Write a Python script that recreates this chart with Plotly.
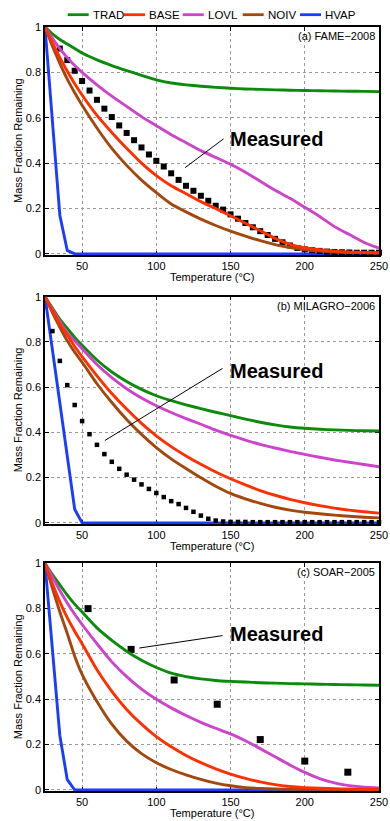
import plotly.graph_objects as go

# ---------------- data ----------------
T_MODEL = [25, 30, 35, 40, 45, 50, 60, 70, 80, 90, 100, 110, 120, 130, 140,
           150, 160, 170, 180, 190, 200, 210, 220, 230, 240, 250]

# (a) FAME-2008
A_TRAD = [1, 0.97, 0.945, 0.925, 0.905, 0.885, 0.855, 0.83, 0.808, 0.787, 0.767, 0.753, 0.745,
          0.739, 0.734, 0.73, 0.727, 0.725, 0.723, 0.721, 0.72, 0.719, 0.718, 0.717, 0.716, 0.715]
A_BASE = [1, 0.93, 0.865, 0.805, 0.75, 0.70, 0.61, 0.535, 0.465, 0.4, 0.345, 0.3, 0.265,
          0.23, 0.2, 0.168, 0.135, 0.102, 0.068, 0.042, 0.027, 0.018, 0.012, 0.008, 0.006, 0.005]
A_LOVL = [1, 0.95, 0.905, 0.865, 0.83, 0.80, 0.745, 0.695, 0.65, 0.605, 0.565, 0.525, 0.49,
          0.455, 0.425, 0.395, 0.36, 0.32, 0.28, 0.245, 0.205, 0.165, 0.12, 0.085, 0.05, 0.025]
A_NOIV = [1, 0.915, 0.84, 0.77, 0.71, 0.655, 0.555, 0.465, 0.39, 0.325, 0.27, 0.22, 0.185,
          0.153, 0.125, 0.1, 0.078, 0.058, 0.041, 0.028, 0.018, 0.012, 0.008, 0.006, 0.005, 0.004]
A_HVAP = [1, 0.58, 0.17, 0.015, 0, 0, 0, 0, 0, 0, 0, 0, 0,
          0, 0, 0, 0, 0, 0, 0, 0, 0, 0, 0, 0, 0]
A_MEAS_T = [35, 40, 45, 50, 55, 60, 65, 70, 75, 80, 85, 90, 95, 100, 105, 110, 115, 120,
            125, 130, 135, 140, 145, 150, 155, 160, 165, 170, 175, 180, 185, 190, 195, 200,
            205, 210, 215, 220, 225, 230, 235, 240, 245, 250]
A_MEAS = [0.905, 0.854, 0.807, 0.762, 0.72, 0.679, 0.64, 0.603, 0.566, 0.533, 0.501, 0.469,
          0.438, 0.41, 0.385, 0.355, 0.326, 0.3, 0.278, 0.256, 0.234, 0.212, 0.195, 0.174,
          0.155, 0.136, 0.117, 0.1, 0.083, 0.066, 0.051, 0.037, 0.026, 0.02, 0.016, 0.013,
          0.01, 0.008, 0.007, 0.006, 0.005, 0.005, 0.005, 0.005]

# (b) MILAGRO-2006
B_TRAD = [1, 0.95, 0.9, 0.86, 0.82, 0.785, 0.72, 0.667, 0.625, 0.59, 0.562, 0.54, 0.522,
          0.505, 0.489, 0.474, 0.459, 0.445, 0.433, 0.424, 0.418, 0.414, 0.411, 0.409, 0.407, 0.406]
B_BASE = [1, 0.94, 0.88, 0.83, 0.78, 0.735, 0.65, 0.572, 0.503, 0.44, 0.385, 0.337, 0.296,
          0.259, 0.225, 0.195, 0.168, 0.143, 0.122, 0.104, 0.089, 0.076, 0.065, 0.056, 0.049, 0.043]
B_LOVL = [1, 0.945, 0.89, 0.84, 0.805, 0.77, 0.70, 0.642, 0.593, 0.552, 0.518, 0.488, 0.461,
          0.436, 0.41, 0.387, 0.366, 0.347, 0.331, 0.316, 0.303, 0.29, 0.278, 0.268, 0.258, 0.248]
B_NOIV = [1, 0.93, 0.865, 0.805, 0.755, 0.71, 0.615, 0.532, 0.457, 0.391, 0.333, 0.283, 0.24,
          0.199, 0.162, 0.13, 0.106, 0.086, 0.069, 0.056, 0.047, 0.04, 0.034, 0.029, 0.025, 0.022]
B_HVAP = [1, 0.77, 0.53, 0.3, 0.06, 0, 0, 0, 0, 0, 0, 0, 0,
          0, 0, 0, 0, 0, 0, 0, 0, 0, 0, 0, 0, 0]
B_MEAS_T = [30, 35, 40, 45, 50, 55, 60, 65, 70, 75, 80, 85, 90, 95, 100, 105, 110, 115, 120,
            125, 130, 135, 140, 145, 150, 155, 160, 165, 170, 175, 180, 185, 190, 195, 200,
            205, 210, 215, 220, 225, 230, 235, 240, 245, 250]
B_MEAS = [0.848, 0.716, 0.609, 0.521, 0.45, 0.392, 0.345, 0.304, 0.27, 0.239, 0.213, 0.191,
          0.17, 0.15, 0.132, 0.114, 0.096, 0.083, 0.066, 0.049, 0.032, 0.018, 0.01, 0.006,
          0.004, 0.004, 0.004, 0.003, 0.003, 0.003, 0.003, 0.003, 0.003, 0.003, 0.003, 0.003,
          0.003, 0.003, 0.003, 0.003, 0.003, 0.003, 0.003, 0.003, 0.003]

# (c) SOAR-2005
C_TRAD = [1, 0.95, 0.905, 0.86, 0.82, 0.785, 0.715, 0.66, 0.612, 0.572, 0.54, 0.515, 0.5,
          0.49, 0.483, 0.479, 0.476, 0.473, 0.471, 0.469, 0.468, 0.466, 0.465, 0.464, 0.463, 0.462]
C_BASE = [1, 0.91, 0.83, 0.76, 0.7, 0.645, 0.53, 0.435, 0.355, 0.29, 0.235, 0.19, 0.152,
          0.12, 0.093, 0.07, 0.051, 0.035, 0.023, 0.015, 0.01, 0.007, 0.005, 0.004, 0.003, 0.003]
C_LOVL = [1, 0.94, 0.88, 0.825, 0.775, 0.73, 0.645, 0.565, 0.5, 0.445, 0.4, 0.362, 0.328,
          0.298, 0.272, 0.247, 0.217, 0.182, 0.146, 0.11, 0.077, 0.05, 0.031, 0.019, 0.012, 0.009]
C_NOIV = [1, 0.89, 0.785, 0.69, 0.59, 0.51, 0.39, 0.29, 0.215, 0.16, 0.12, 0.09, 0.066,
          0.046, 0.03, 0.018, 0.01, 0.006, 0.004, 0.003, 0.002, 0.002, 0.001, 0.001, 0.001, 0.001]
C_HVAP = [1, 0.6, 0.24, 0.045, 0, 0, 0, 0, 0, 0, 0, 0, 0,
          0, 0, 0, 0, 0, 0, 0, 0, 0, 0, 0, 0, 0]
C_MEAS_T = [54, 83, 112, 141, 170, 200, 229]
C_MEAS = [0.80, 0.62, 0.485, 0.378, 0.222, 0.127, 0.078]

SERIES_NAMES = ["TRAD", "BASE", "LOVL", "NOIV", "HVAP"]
PANEL_LABELS = ["(a) FAME\u22122008", "(b) MILAGRO\u22122006", "(c) SOAR\u22122005"]
X_TITLE = "Temperature (\u00b0C)"
Y_TITLE = "Mass Fraction Remaining"
X_TICKS = [50, 100, 150, 200, 250]
Y_TICKS = [0, 0.2, 0.4, 0.6, 0.8, 1]
Y_TICK_TEXT = ["0", "0.2", "0.4", "0.6", "0.8", "1"]

# annotation anchors (text position and pointer end), data coords per panel
MEAS_TEXT_POS = [(148.4, 0.505), (148.4, 0.672), (148.4, 0.69)]
MEAS_LINE = [((145.3, 0.507), (119.4, 0.38)),
             ((144.6, 0.683), (65.3, 0.364)),
             ((144.6, 0.681), (88.5, 0.626))]

# ---------------- styling ----------------
COLORS = {"TRAD": "#0c8a0c", "BASE": "#ff2f00", "LOVL": "#cc44cc",
          "NOIV": "#a4470c", "HVAP": "#1a3cff"}
FONT = "Liberation Sans, Arial, Helvetica, sans-serif"
MARKER_SIZE = [6, 4.5, 7]
DOMAINS = [[0.7016, 1.0], [0.3495, 0.647], [0.0, 0.298]]

panels = [
    {"TRAD": A_TRAD, "BASE": A_BASE, "LOVL": A_LOVL, "NOIV": A_NOIV, "HVAP": A_HVAP,
     "mt": A_MEAS_T, "m": A_MEAS},
    {"TRAD": B_TRAD, "BASE": B_BASE, "LOVL": B_LOVL, "NOIV": B_NOIV, "HVAP": B_HVAP,
     "mt": B_MEAS_T, "m": B_MEAS},
    {"TRAD": C_TRAD, "BASE": C_BASE, "LOVL": C_LOVL, "NOIV": C_NOIV, "HVAP": C_HVAP,
     "mt": C_MEAS_T, "m": C_MEAS},
]

fig = go.Figure()
draw_order = ["HVAP", "MEAS", "TRAD", "LOVL", "NOIV", "BASE"]
small_font = dict(size=11, color="black", family=FONT)

for i, p in enumerate(panels):
    sfx = "" if i == 0 else str(i + 1)
    xa, ya = "x" + sfx, "y" + sfx
    for name in draw_order:
        if name == "MEAS":
            fig.add_trace(go.Scatter(
                x=p["mt"], y=p["m"], mode="markers", xaxis=xa, yaxis=ya,
                marker=dict(symbol="square", size=MARKER_SIZE[i], color="black",
                            line=dict(width=0)),
                showlegend=False, cliponaxis=False, hoverinfo="skip"))
        else:
            fig.add_trace(go.Scatter(
                x=T_MODEL, y=p[name], mode="lines", xaxis=xa, yaxis=ya,
                line=dict(color=COLORS[name], width=2.9,
                          shape="linear" if name == "HVAP" else "spline",
                          smoothing=0.5 if name != "HVAP" else None),
                showlegend=False, hoverinfo="skip"))

    axis_common = dict(showline=True, linecolor="black", linewidth=1.5, mirror="ticks",
                       ticks="inside", ticklen=4, tickcolor="black",
                       showgrid=True, gridcolor="#9a9a9a", griddash="dot", gridwidth=1,
                       zeroline=False, tickfont=small_font, automargin=False,
                       layer="below traces")
    fig.update_layout(**{
        "xaxis" + sfx: dict(axis_common, domain=[0, 1], anchor=ya, range=[25, 250],
                            tickvals=X_TICKS),
        "yaxis" + sfx: dict(axis_common, domain=DOMAINS[i], anchor=xa, range=[-0.005, 1],
                            tickvals=Y_TICKS, ticktext=Y_TICK_TEXT),
    })

    # axis titles
    fig.add_annotation(text=X_TITLE, xref=xa + " domain", yref=ya + " domain",
                       x=0.5, y=0, yshift=-22, xanchor="center", yanchor="middle",
                       showarrow=False, font=small_font)
    fig.add_annotation(text=Y_TITLE, xref=xa + " domain", yref=ya + " domain",
                       x=0, y=0.5, xshift=-27, xanchor="center", yanchor="middle",
                       textangle=-90, showarrow=False, font=small_font)
    # panel label
    fig.add_annotation(text=PANEL_LABELS[i], xref=xa + " domain", yref=ya + " domain",
                       x=0.995, y=0.995, xanchor="right", yanchor="top", showarrow=False,
                       font=small_font)
    # "Measured" text and pointer
    tx, ty = MEAS_TEXT_POS[i]
    fig.add_annotation(text="<b>Measured</b>", x=tx, y=ty, xref=xa, yref=ya,
                       xanchor="left", yanchor="middle", showarrow=False,
                       font=dict(size=20, color="black", family=FONT))
    (x0, y0), (x1, y1) = MEAS_LINE[i]
    fig.add_shape(type="line", xref=xa, yref=ya, x0=x0, y0=y0, x1=x1, y1=y1,
                  line=dict(color="black", width=1))

# custom horizontal legend across the top (paper coords)
LEG_SWATCH_X = [67.7, 124.0, 182.7, 242.7, 300.0]  # px
PLOT_L, PLOT_R, PLOT_T, PLOT_B = 45, 379, 27, 791
pw, ph = PLOT_R - PLOT_L, PLOT_B - PLOT_T
leg_y = 1 + (PLOT_T - 14.7) / ph
for name, sx in zip(SERIES_NAMES, LEG_SWATCH_X):
    fig.add_shape(type="line", xref="paper", yref="paper",
                  x0=(sx - PLOT_L) / pw, x1=(sx + 21 - PLOT_L) / pw, y0=leg_y, y1=leg_y,
                  line=dict(color=COLORS[name], width=2.8))
    fig.add_annotation(text=name, xref="paper", yref="paper",
                       x=(sx + 23 - PLOT_L) / pw, y=leg_y, xanchor="left", yanchor="middle",
                       showarrow=False, font=dict(size=11.5, color="black", family=FONT))

fig.update_layout(width=390, height=821, autosize=False,
                  margin=dict(l=PLOT_L, r=390 - PLOT_R, t=PLOT_T, b=821 - PLOT_B,
                              autoexpand=False),
                  paper_bgcolor="white", plot_bgcolor="white",
                  font=dict(family=FONT, color="black"), showlegend=False)

fig.write_html("out.html")
